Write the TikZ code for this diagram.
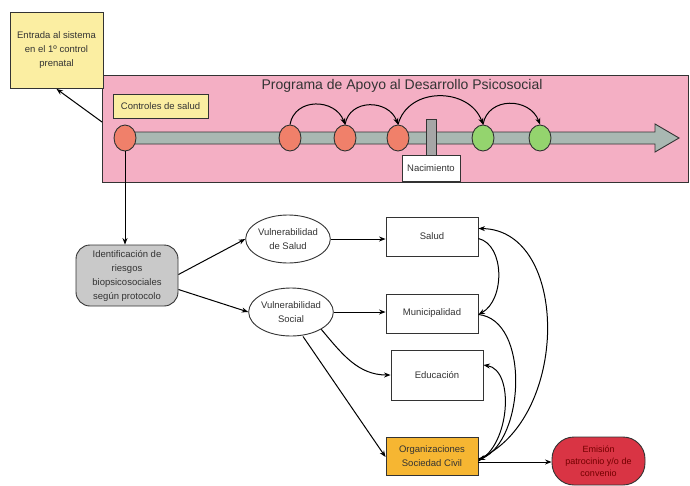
\documentclass[tikz,border=0pt]{standalone}
\usepackage{fontspec}
\setmainfont{Liberation Sans}
\usetikzlibrary{shapes.geometric,arrows.meta}
\definecolor{pinkbg}{HTML}{F4AFC4}
\definecolor{yelbox}{HTML}{FBEEA2}
\definecolor{barcol}{HTML}{A9B8B2}
\definecolor{redc}{HTML}{F0806A}
\definecolor{greenc}{HTML}{94D46E}
\definecolor{greyb}{HTML}{C9C9C9}
\definecolor{orgc}{HTML}{F6B632}
\definecolor{redn}{HTML}{D93444}
\definecolor{txt}{HTML}{333333}
\definecolor{edge}{HTML}{333333}
\tikzset{
  arr/.style={-{Stealth[length=6.5pt,width=5pt]},line width=1pt,draw=black},
  txtf/.style={font=\fontsize{9.5}{14}\selectfont,text=txt},
  box/.style={draw=edge,line width=0.9pt,fill=white,minimum width=92pt,minimum height=39pt,align=center,txtf,inner sep=1pt},
  ell/.style={draw=edge,line width=0.9pt,fill=white,ellipse,inner sep=0pt,minimum width=80pt,minimum height=48pt,align=center,txtf},
  dot/.style={draw=edge,line width=0.9pt,ellipse,inner sep=0pt,minimum width=22pt,minimum height=26pt},
}
\begin{document}
\begin{tikzpicture}[x=1pt,y=-1pt]
\useasboundingbox (0,0) rectangle (690,485);
% pink program area
\node[draw=edge,line width=0.9pt,fill=pinkbg,minimum width=586pt,minimum height=107pt,inner sep=0pt] (prog) at (395,128.5) {};
\node[font=\fontsize{14}{16}\selectfont,text=txt] (title) at (402,86) {Programa de Apoyo al Desarrollo Psicosocial};
% entry box
\node[draw=edge,line width=0.9pt,fill=yelbox,minimum width=93pt,minimum height=76pt,align=center,txtf,inner sep=1pt,anchor=north] (entry) at (56.5,12) {Entrada al sistema\\en el 1º control\\prenatal};
\node[draw=edge,line width=0.9pt,fill=yelbox,minimum width=95pt,minimum height=24pt,txtf,inner sep=1pt] (ctrl) at (160.5,106) {Controles de salud};
% timeline bar
\draw[draw=edge,line width=0.9pt,fill=barcol] (125,132) -- (655,132) -- (655,124) -- (679,138) -- (655,152) -- (655,144) -- (125,144) -- cycle;
% birth marker
\node[draw=edge,line width=0.9pt,fill=gray!70,minimum width=10pt,minimum height=36pt,inner sep=0pt] (mark) at (431,137) {};
\node[draw=edge,line width=0.9pt,fill=white,minimum width=58pt,minimum height=26pt,font=\fontsize{9.5}{11}\selectfont,text=txt,inner sep=1pt] (nac) at (431,168) {Nacimiento};
% control circles
\node[dot,fill=redc] (c1) at (125,138) {};
\node[dot,fill=redc] (c2) at (290,138) {};
\node[dot,fill=redc] (c3) at (345,138) {};
\node[dot,fill=redc] (c4) at (398,138) {};
\node[dot,fill=greenc] (c5) at (483,138) {};
\node[dot,fill=greenc] (c6) at (540,138) {};
\draw[arr] (c2.north) to[out=80,in=110,looseness=1.3] (c3.north);
\draw[arr] (c3.north) to[out=80,in=110,looseness=1.3] (c4.north);
\draw[arr] (c4.north) to[out=75,in=110,looseness=1.2] (c5.north);
\draw[arr] (c5.north) to[out=80,in=110,looseness=1.3] (c6.north);
% arrow to entry box
\coordinate (pl) at (102,122);
\draw[arr] (pl) -- (entry.south);
% identification
\node[draw=edge,line width=0.9pt,fill=greyb,rounded corners=14pt,minimum width=102pt,minimum height=61pt,align=center,txtf,inner sep=1pt] (ident) at (127,275.5) {Identificación de\\riesgos\\biopsicosociales\\según protocolo};
\draw[arr] (c1.south) -- (ident.north -| c1.south);
% vulnerability ellipses
\node[ell] (vs) at (288,239) {Vulnerabilidad\\de Salud};
\node[ell] (vso) at (291,312) {Vulnerabilidad\\Social};
\draw[arr] ([yshift=1pt]ident.east) -- (vs.west);
\draw[arr] ([yshift=-14pt]ident.east) -- (vso.west);
% institutions
\node[box] (salud) at (432,236.5) {Salud};
\node[box] (muni) at (432,313.5) {Municipalidad};
\node[box,minimum height=50pt] (edu) at (437,375) {Educación};
\node[box,fill=orgc,minimum height=38pt] (org) at (432,456) {Organizaciones\\Sociedad Civil};
\node[draw=edge,line width=0.9pt,fill=redn,rounded corners=22pt,minimum width=93pt,minimum height=48pt,align=center,font=\fontsize{9}{12}\selectfont,text=red!45!black,inner sep=1pt] (emis) at (598.5,461) {Emisión\\patrocinio y/o de\\convenio};
\draw[arr] (vs.east) -- (vs.east -| salud.west);
\draw[arr] (vso.east) -- (vso.east -| muni.west);
\draw[arr] (vso.south east) to[out=-50,in=180] (edu.west);
\draw[arr] ([xshift=12pt]vso.south) -- ([yshift=-1pt]org.west);
\draw[arr] ([yshift=-6pt]org.east) -- ([yshift=-6pt]org.east -| emis.west);
% right side feedback curves
\draw[arr] ([yshift=-2pt]salud.east) .. controls (505,245) and (505,300) .. ([yshift=-1pt]muni.east);
\draw[arr] ([yshift=-3pt]org.east) .. controls (570,420) and (570,230) .. ([yshift=8pt]salud.east);
\draw[arr] ([yshift=-1pt]muni.east) .. controls (530,320) and (525,440) .. ([yshift=-4pt]org.east);
\draw[arr] ([yshift=-5pt]org.east) .. controls (510,445) and (515,370) .. ([yshift=10pt]edu.east);
\end{tikzpicture}
\end{document}
